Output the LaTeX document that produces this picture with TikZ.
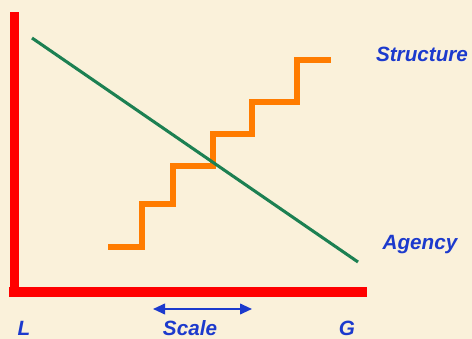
\documentclass[tikz,border=0pt]{standalone}
\usepackage{fontspec}
\setmainfont{Liberation Sans}
\usepackage{xcolor}
\usetikzlibrary{arrows.meta}

\definecolor{parchment}{RGB}{250,241,218}
\definecolor{axisred}{RGB}{255,0,0}
\definecolor{trendgreen}{RGB}{28,128,82}
\definecolor{stairorange}{RGB}{255,124,0}
\definecolor{labelblue}{RGB}{28,58,205}

\tikzset{
  lbl/.style={text=labelblue,inner sep=0pt,anchor=base,
    font=\fontsize{15.5}{16}\selectfont\bfseries\itshape},
  axisline/.style={axisred,line width=7pt},
  trend/.style={trendgreen,line width=2.3pt},
  stairs/.style={stairorange,line width=4pt},
  scalearrow/.style={labelblue,line width=1.4pt,
    {Triangle[length=9pt,width=8pt]}-{Triangle[length=9pt,width=8pt]}}
}

\begin{document}
\begin{tikzpicture}[x=0.75pt,y=-0.75pt]
\fill[parchment] (0,0) rectangle (472,339);
\useasboundingbox (0,0) rectangle (472,339);

% axes
\coordinate (ytop) at (14.5,12);
\coordinate (corner) at (14.5,296);
\coordinate (xstart) at (9,292);
\coordinate (xend) at (367,292);
\draw[axisline] (ytop) -- (corner);
\draw[axisline] (xstart) -- (xend);

% staircase
\coordinate (stepA) at (108,247);
\coordinate (stepB) at (142,204);
\coordinate (stepC) at (173,166);
\coordinate (stepD) at (213,134);
\coordinate (stepE) at (252,102);
\coordinate (stepF) at (297,60);
\coordinate (stepG) at (331,60);
\draw[stairs] (stepA) -| (stepB) -| (stepC) -| (stepD) -| (stepE) -| (stepF) -- (stepG);

% trend line
\coordinate (trendtop) at (32,38);
\coordinate (trendend) at (358,262);
\draw[trend] (trendtop) -- (trendend);

% labels
\node[lbl] (structure) at (422,61) {Structure};
\node[lbl] (agency) at (420,249) {Agency};
\node[lbl] (local) at (24,335) {L};
\node[lbl] (scale) at (190,335) {Scale};
\node[lbl] (global) at (347,335) {G};

% scale arrow
\coordinate (scaleleft) at (153,309);
\coordinate (scaleright) at (252,309);
\draw[scalearrow] (scaleleft) -- (scaleright);
\end{tikzpicture}
\end{document}
